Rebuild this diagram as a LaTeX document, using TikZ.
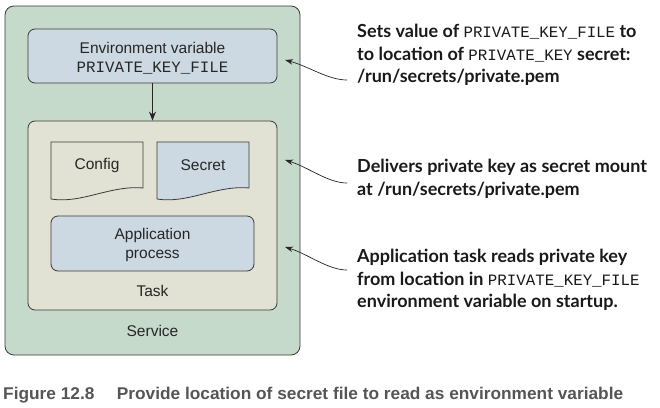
\documentclass[tikz,border=0pt]{standalone}
\usepackage{fontspec}
\usepackage{graphicx}
\setmainfont{Liberation Sans}
\newfontfamily\annfont{Lato}
\newfontfamily\mymono{Liberation Mono}
\usetikzlibrary{arrows.meta}
\definecolor{svcfill}{HTML}{C6DACC}
\definecolor{envfill}{HTML}{CDD9E2}
\definecolor{taskfill}{HTML}{E1E2D4}
\definecolor{linec}{HTML}{3A3A3A}
\definecolor{capc}{HTML}{555555}
\newcommand{\pk}[1]{{\mymono\mdseries\fontsize{15.8}{22.5}\selectfont #1}}
\begin{document}
\begin{tikzpicture}[x=1pt,y=-1pt,
  box/.style={draw=linec, line width=0.8pt, rounded corners=7pt, inner sep=0pt},
  boxtext/.style={font=\fontsize{15.5}{19}\selectfont, text=black!85, align=center},
  doc/.style={draw=linec, line width=0.8pt},
  arr/.style={draw=black!85, line width=1pt, -{Stealth[length=9pt,width=7pt]}},
  annarr/.style={draw=black!85, line width=0.7pt, -{Stealth[length=8pt,width=5.5pt]}},
  anntext/.style={anchor=north west, inner sep=0pt, align=left, text=black!90,
    font=\annfont\bfseries\fontsize{18}{22.5}\selectfont}
]
\useasboundingbox (0,0) rectangle (660,407);

% containers
\node[box, fill=svcfill, rounded corners=9pt, minimum width=295pt, minimum height=349pt] (service) at (152.5,180.5) {};
\node[box, fill=envfill, minimum width=249pt, minimum height=54pt] (env) at (152.5,56) {};
\node[box, fill=taskfill, minimum width=249pt, minimum height=189pt] (task) at (152.5,215.5) {};
\node[box, fill=envfill, minimum width=203pt, minimum height=55pt] (app) at (152.5,243.5) {};

% texts in boxes
\node[boxtext] (envtext) at (152.5,58) {Environment variable\\{\mymono\fontsize{15.8}{19}\selectfont PRIVATE\_KEY\_FILE}};
\node[boxtext] (apptext) at (152.5,245) {Application\\process};
\node[boxtext] (tasklbl) at (152.5,291) {Task};
\node[boxtext] (svclbl) at (152.5,331) {Service};

% document shapes
\draw[doc, fill=taskfill] (51,142) -- (143,142) -- (143,188)
  .. controls (110,185) and (82,204) .. (51,199) -- cycle;
\draw[doc, fill=envfill] (157,142) -- (249,142) -- (249,188)
  .. controls (216,185) and (188,204) .. (157,199) -- cycle;
\node[boxtext] (config) at (97,165) {Config};
\node[boxtext] (secret) at (203,165) {Secret};

% main arrow
\draw[arr] (env.south) -- (task.north);

% annotation arrows
\coordinate (a1s) at (347,80);  \coordinate (a1t) at (285,60);
\coordinate (a2s) at (347,183); \coordinate (a2t) at (285,160);
\coordinate (a3s) at (347,270); \coordinate (a3t) at (285,247);
\draw[annarr] (a1s) .. controls (328,80) and (308,66) .. (a1t);
\draw[annarr] (a2s) .. controls (328,183) and (308,167) .. (a2t);
\draw[annarr] (a3s) .. controls (328,270) and (308,254) .. (a3t);

% annotation texts
\node[anntext] (t1) at (357,24) {Sets value of \pk{PRIVATE\_KEY\_FILE} to\\to location of \pk{PRIVATE\_KEY} secret:\\/run/secrets/private.pem};
\node[anntext] (t2) at (357,159) {Delivers private key as secret mount\\at /run/secrets/private.pem};
\node[anntext] (t3) at (357,249) {Application task reads private key\\from location in \pk{PRIVATE\_KEY\_FILE}\\environment variable on startup.};

% caption
\node[anchor=base west, inner sep=0pt, text=capc, font=\bfseries\fontsize{17}{20}\selectfont] (caption) at (3,399)
  {\resizebox{620pt}{\height}{Figure 12.8\hspace{22pt}Provide location of secret file to read as environment variable}};
\end{tikzpicture}
\end{document}
